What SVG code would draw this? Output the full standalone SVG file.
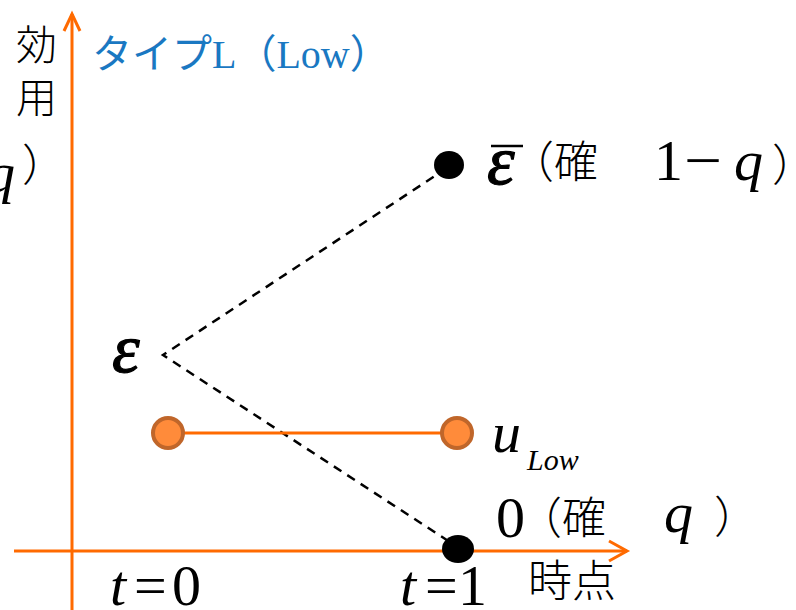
<svg xmlns="http://www.w3.org/2000/svg" width="796" height="610" viewBox="0 0 796 610">
<style>
.ax{stroke:#FF6A00;stroke-width:3;fill:none}
.dash{stroke:#000;stroke-width:2.5;stroke-dasharray:9,7;fill:none}
.cj{font-family:"Noto Sans CJK JP",serif;font-weight:300;fill:#000}
.m{font-family:"Liberation Serif","Noto Sans CJK JP",serif;font-size:58px;fill:#000}
.i{font-style:italic}
.eps{font-family:"Liberation Serif",serif;font-style:italic;font-size:70px;fill:#000;stroke:#000;stroke-width:1.2}
.oc{fill:#FF8B3A;stroke:#C0662A;stroke-width:4}
</style>
<rect width="796" height="610" fill="#fff"/>
<g id="axes">
<line class="ax" x1="72" y1="14" x2="72" y2="610"/>
<polyline class="ax" points="64,31 72,14 80,31"/>
<line class="ax" x1="14" y1="551" x2="627" y2="551"/>
<polyline class="ax" points="609,541 627,551 609,561"/>
</g>
<g id="connectors">
<polyline class="dash" points="447,168 163,355 456,546"/>
<line x1="168" y1="433" x2="457" y2="433" stroke="#FF6A00" stroke-width="3"/>
</g>
<g id="node-top"><ellipse cx="449" cy="165" rx="15" ry="14" fill="#000"/></g>
<g id="node-bottom"><ellipse cx="458" cy="549" rx="16" ry="14" fill="#000"/></g>
<g id="node-u0"><circle class="oc" cx="168" cy="433" r="15"/></g>
<g id="node-u1"><circle class="oc" cx="457" cy="433" r="15"/></g>
<g id="labels">
<text class="cj" x="16" y="60" font-size="41">効</text>
<text class="cj" x="16" y="113" font-size="41">用</text>
<text x="92" y="68" font-family="Liberation Serif,'Noto Sans CJK JP',serif" font-size="40" fill="#1A78C2">タイプL（Low）</text>
<text class="m i" x="-14" y="192" font-size="62">q</text>
<text class="cj" x="22" y="181" font-size="44">）</text>
<text class="eps" x="487" y="184" font-size="60">ε</text>
<line x1="491" y1="146" x2="523" y2="146" stroke="#000" stroke-width="2.5"/>
<text class="cj" x="510" y="178" font-size="44">（確</text>
<text class="m" x="654" y="180" font-size="58">1</text>
<text class="m" x="684" y="180" font-size="58" textLength="38" lengthAdjust="spacingAndGlyphs">−</text>
<text class="m i" x="734" y="180" font-size="62">q</text>
<text class="cj" x="772" y="181" font-size="44">）</text>
<text class="eps" x="112" y="372">ε</text>
<text class="m i" x="492" y="452" font-size="58">u</text>
<text class="i" x="527" y="470" font-family="Liberation Serif,serif" font-size="30">Low</text>
<text class="m" x="496" y="537" font-size="60">0</text>
<text class="cj" x="518" y="534" font-size="44">（確</text>
<text class="m i" x="664" y="532" font-size="62">q</text>
<text class="cj" x="714" y="533" font-size="44">）</text>
<text class="cj" x="528" y="597" font-size="44">時点</text>
<text class="m" y="605" font-size="50"><tspan class="i" x="110">t</tspan><tspan x="134">=</tspan><tspan x="172">0</tspan></text>
<text class="m" y="605" font-size="50"><tspan class="i" x="400">t</tspan><tspan x="425">=</tspan><tspan x="458">1</tspan></text>
</g>
</svg>
